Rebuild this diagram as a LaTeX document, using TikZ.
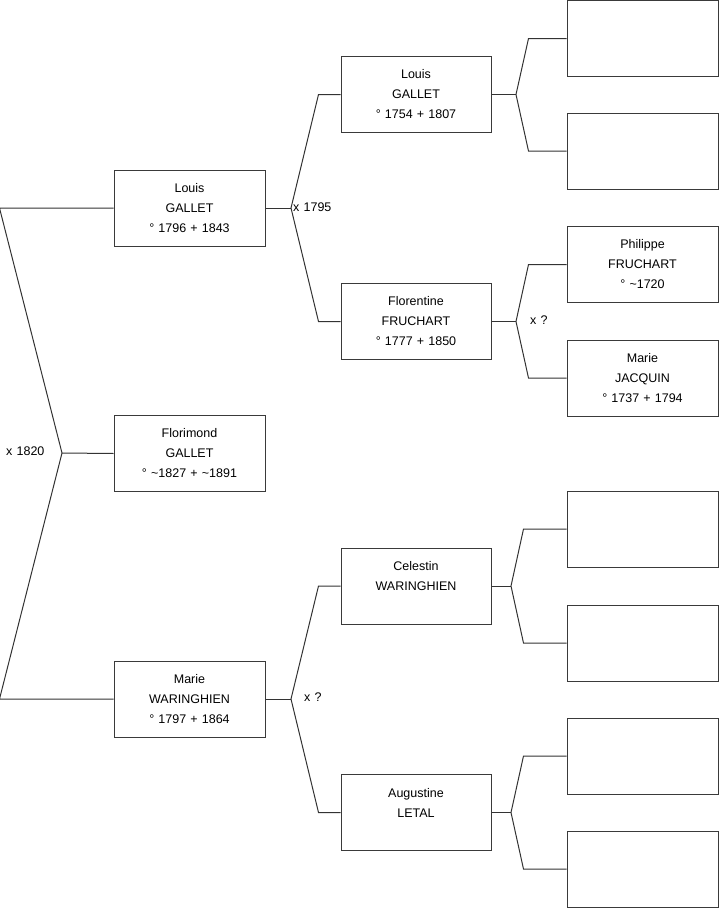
\documentclass[tikz,border=0pt]{standalone}
\usepackage{fontspec}
\setmainfont[WordSpace=1.2]{Liberation Sans}
\usepackage{xcolor}
\definecolor{treeline}{HTML}{333333}
\definecolor{boxline}{HTML}{3A3A3A}
\usetikzlibrary{positioning}
\tikzset{
  every node/.style={font=\fontsize{12.5}{20}\selectfont, text=black},
  person/.style={
    rectangle, draw=boxline, line width=1pt, fill=white,
    minimum height=76pt, align=center, inner sep=0pt
  },
  gen1/.style={person, minimum width=151pt},
  gen2/.style={person, minimum width=150pt},
  gen3/.style={person, minimum width=151pt},
  link/.style={treeline, line width=1pt},
  unionlabel/.style={anchor=west, inner sep=0pt}
}
\newcommand{\tld}{\textasciitilde}

\begin{document}
\begin{tikzpicture}[x=1pt, y=-1pt]
\useasboundingbox (0,0) rectangle (719,908);

% Generation 1
\node[gen1] (louis) at (189.5,208) {Louis\\GALLET\\° 1796 + 1843};
\node[gen1] (florimond) at (189.5,453.5) {Florimond\\GALLET\\° \tld1827 + \tld1891};
\node[gen1] (marie) at (189.5,699) {Marie\\WARINGHIEN\\° 1797 + 1864};

% Generation 2
\node[gen2] (louisp) at (416,94.5) {Louis\\GALLET\\° 1754 + 1807};
\node[gen2] (florentine) at (416,321.5) {Florentine\\FRUCHART\\° 1777 + 1850};
\node[gen2] (celestin) at (416,586) {Celestin\\WARINGHIEN\\\mbox{}};
\node[gen2] (augustine) at (416,812.5) {Augustine\\LETAL\\\mbox{}};

% Generation 3
\node[gen3] (blank1) at (642.5,38.5) {};
\node[gen3] (blank2) at (642.5,151) {};
\node[gen3] (philippe) at (642.5,264.5) {Philippe\\FRUCHART\\° \tld1720};
\node[gen3] (jacquin) at (642.5,378) {Marie\\JACQUIN\\° 1737 + 1794};
\node[gen3] (blank3) at (642.5,529) {};
\node[gen3] (blank4) at (642.5,643) {};
\node[gen3] (blank5) at (642.5,756) {};
\node[gen3] (blank6) at (642.5,869) {};

% Joints
\coordinate (j0) at (62,453);
\coordinate (j1) at (291,208);
\coordinate (j2) at (291,699);
\coordinate (j3) at (516,94.5);
\coordinate (j4) at (516,321.5);
\coordinate (j5) at (511,586);
\coordinate (j6) at (511,812.5);

% Root couple
\draw[link] (louis.west) -- ([xshift=-114pt]louis.west) -- (j0)
  -- ([xshift=-114pt]marie.west) -- (marie.west);
\draw[link] (j0) -- (florimond.west);
\node[unionlabel] (u0) at (6,451) {x 1820};

% Parents of Louis
\draw[link] (louis.east) -- (j1);
\draw[link] (louisp.west) -- ([xshift=-22pt]louisp.west) -- (j1)
  -- ([xshift=-22pt]florentine.west) -- (florentine.west);
\node[unionlabel] (u1) at (293,207) {x 1795};

% Parents of Marie
\draw[link] (marie.east) -- (j2);
\draw[link] (celestin.west) -- ([xshift=-22pt]celestin.west) -- (j2)
  -- ([xshift=-22pt]augustine.west) -- (augustine.west);
\node[unionlabel] (u2) at (304,697) {x ?};

% Generation 3 links
\draw[link] (louisp.east) -- (j3);
\draw[link] (blank1.west) -- ([xshift=-38pt]blank1.west) -- (j3)
  -- ([xshift=-38pt]blank2.west) -- (blank2.west);
\draw[link] (florentine.east) -- (j4);
\draw[link] (philippe.west) -- ([xshift=-38pt]philippe.west) -- (j4)
  -- ([xshift=-38pt]jacquin.west) -- (jacquin.west);
\node[unionlabel] (u3) at (530,320) {x ?};
\draw[link] (celestin.east) -- (j5);
\draw[link] (blank3.west) -- ([xshift=-43pt]blank3.west) -- (j5)
  -- ([xshift=-43pt]blank4.west) -- (blank4.west);
\draw[link] (augustine.east) -- (j6);
\draw[link] (blank5.west) -- ([xshift=-43pt]blank5.west) -- (j6)
  -- ([xshift=-43pt]blank6.west) -- (blank6.west);

\end{tikzpicture}
\end{document}
